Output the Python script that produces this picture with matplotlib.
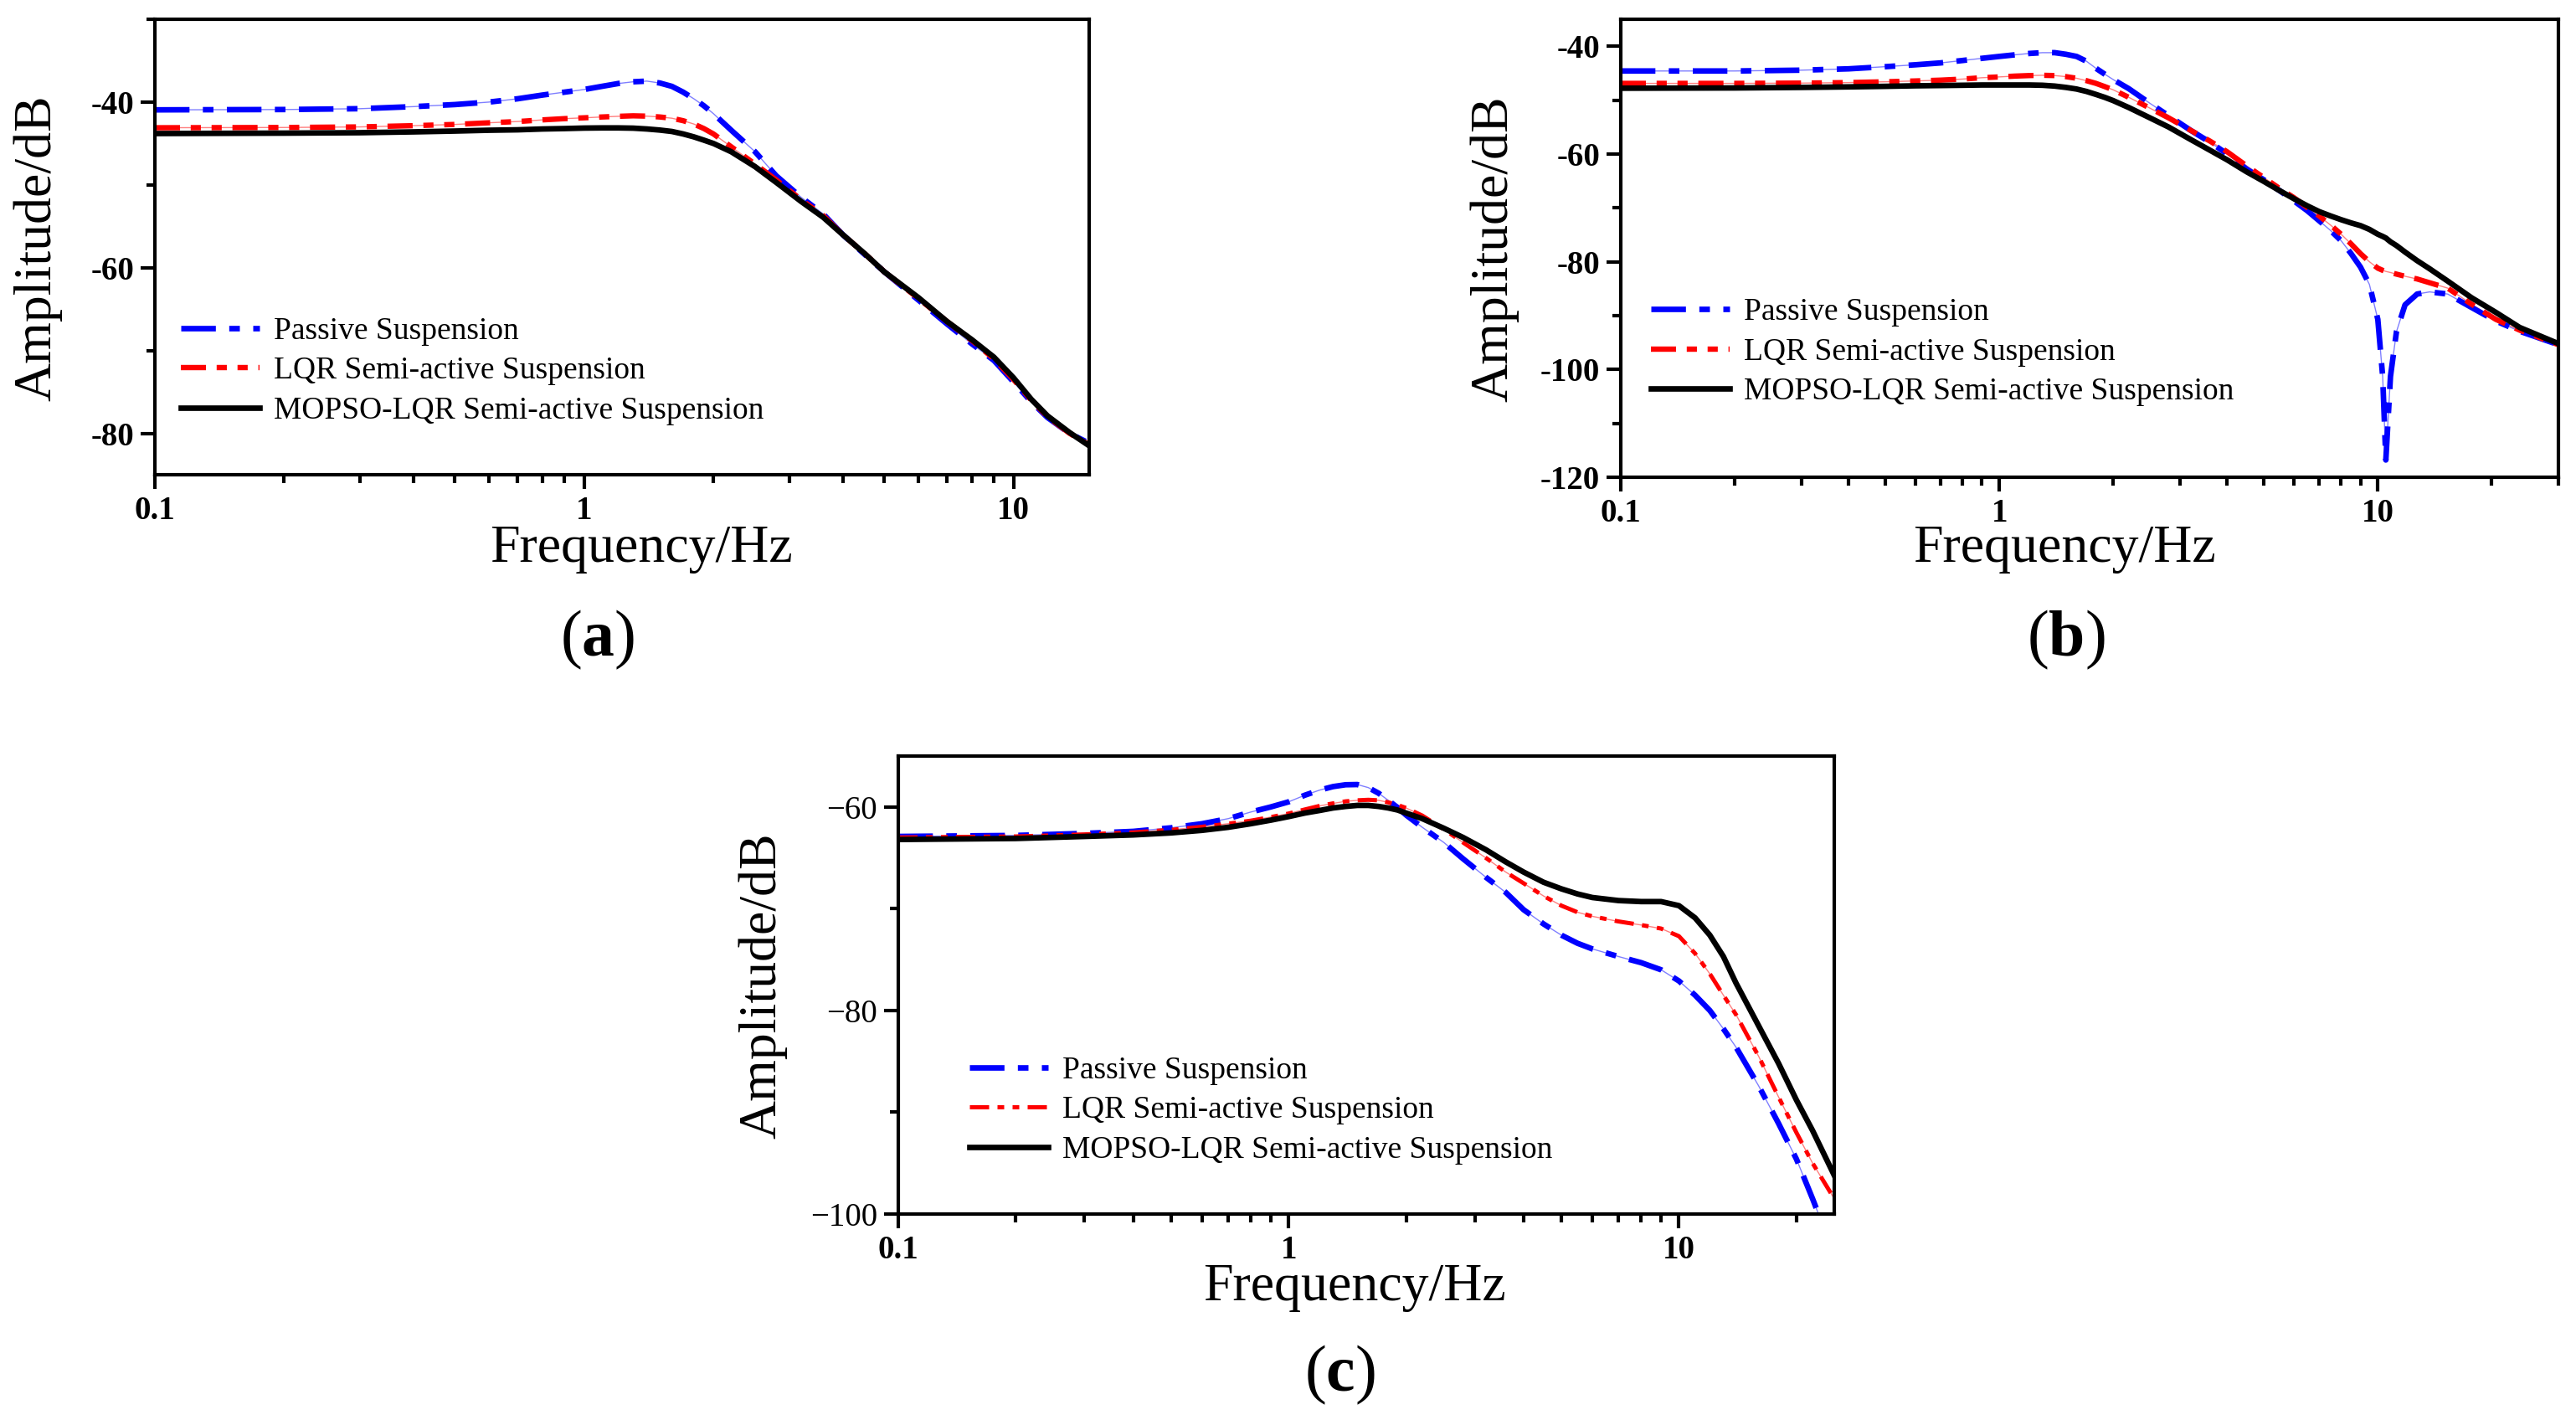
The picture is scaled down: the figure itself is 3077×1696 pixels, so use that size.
import matplotlib
matplotlib.use("Agg")
import matplotlib.pyplot as plt
from matplotlib.ticker import FixedLocator, LogLocator, MultipleLocator, NullFormatter

plt.rcParams["font.family"] = ["Liberation Serif", "DejaVu Serif"]
plt.rcParams["mathtext.fontset"] = "custom"
plt.rcParams["mathtext.rm"] = "Liberation Serif"
plt.rcParams["mathtext.bf"] = "Liberation Serif:bold"

# ---------------------------------------------------------------------------
# data (frequency in Hz, amplitude in dB)
# ---------------------------------------------------------------------------
labels = ["Passive Suspension", "LQR Semi-active Suspension",
          "MOPSO-LQR Semi-active Suspension"]

# panel (a)
freq_a = [0.1, 0.2, 0.3, 0.4, 0.5, 0.6, 0.7, 0.8, 0.9, 1.0, 1.1, 1.2, 1.3, 1.4,
          1.5, 1.6, 1.7, 1.8, 1.9, 2.0, 2.2, 2.5, 2.8, 3.2, 3.6, 4.0, 4.5, 5.0,
          6.0, 7.0, 8.0, 9.0, 10.0, 11.0, 12.0, 13.5, 15.0]
passive_a = [-40.94, -40.9, -40.8, -40.55, -40.3, -40.0, -39.6, -39.15, -38.8,
             -38.48, -38.1, -37.76, -37.55, -37.47, -37.7, -38.1, -38.8, -39.6,
             -40.45, -41.4, -43.4, -46.0, -48.9, -51.5, -53.5, -56.0, -58.4,
             -60.5, -63.9, -66.8, -69.2, -71.2, -73.8, -76.2, -78.1, -80.0, -81.2]
lqr_a = [-43.1, -43.07, -43.0, -42.85, -42.7, -42.5, -42.35, -42.15, -42.0,
         -41.9, -41.8, -41.72, -41.66, -41.7, -41.8, -41.95, -42.25, -42.65,
         -43.2, -43.85, -45.4, -47.5, -49.4, -51.8, -53.7, -56.0, -58.3,
         -60.5, -63.7, -66.5, -68.8, -71.0, -73.5, -76.0, -78.0, -80.0, -81.4]
mopso_a = [-43.8, -43.75, -43.7, -43.6, -43.5, -43.4, -43.35, -43.25, -43.2,
           -43.14, -43.12, -43.12, -43.15, -43.25, -43.38, -43.55, -43.85, -44.2,
           -44.6, -45.0, -46.0, -47.8, -49.7, -52.0, -53.9, -56.0, -58.3,
           -60.5, -63.6, -66.5, -68.7, -70.8, -73.3, -75.9, -77.9, -79.9, -81.5]

# panel (b)
freq_b = [0.1, 0.2, 0.3, 0.4, 0.5, 0.6, 0.7, 0.8, 0.9, 1.0, 1.1, 1.2, 1.3, 1.4,
          1.5, 1.6, 1.7, 1.8, 1.9, 2.0, 2.2, 2.5, 2.8, 3.2, 3.6, 4.0, 4.5, 5.0,
          5.5, 6.0, 6.5, 7.0, 7.5, 8.0, 8.5, 9.0, 9.5, 10.0, 10.3, 10.5, 10.8,
          11.2, 11.8, 12.7, 13.7, 15.3, 17.7, 20.5, 23.7, 30.0]
passive_b = [-44.6, -44.6, -44.45, -44.2, -43.8, -43.45, -43.1, -42.65, -42.25,
             -41.9, -41.6, -41.35, -41.2, -41.2, -41.5, -41.9, -42.8, -44.1,
             -45.2, -46.2, -47.9, -50.6, -52.9, -55.6, -57.8, -60.0, -62.8,
             -64.8, -66.8, -68.7, -70.5, -72.4, -74.2, -76.1, -78.5, -81.0,
             -84.2, -90.7, -101.3, -116.8, -101.3, -93.0, -88.0, -86.0, -85.6,
             -86.0, -88.5, -91.0, -92.9, -95.4]
lqr_b = [-46.9, -46.9, -46.85, -46.75, -46.6, -46.45, -46.3, -46.1, -45.85,
         -45.7, -45.55, -45.45, -45.4, -45.45, -45.65, -45.95, -46.4, -46.9,
         -47.5, -48.1, -49.5, -51.5, -53.3, -55.6, -57.6, -59.6, -62.2, -64.4,
         -66.4, -68.1, -69.9, -71.5, -73.2, -74.9, -76.7, -78.5, -80.0, -81.2,
         -81.6, -81.8, -82.0, -82.3, -82.7, -83.2, -83.9, -84.9, -87.9, -90.7,
         -92.7, -95.4]
mopso_b = [-47.8, -47.75, -47.65, -47.55, -47.45, -47.35, -47.3, -47.25, -47.2,
           -47.2, -47.2, -47.2, -47.25, -47.4, -47.65, -47.95, -48.4, -48.95,
           -49.5, -50.1, -51.4, -53.3, -55.0, -57.3, -59.3, -61.1, -63.3, -65.1,
           -66.8, -68.3, -69.6, -70.7, -71.5, -72.2, -72.8, -73.3, -74.0, -74.9,
           -75.3, -75.6, -76.3, -77.0, -78.2, -79.8, -81.3, -83.6, -86.7, -89.4,
           -92.2, -95.2]

# panel (c)
freq_c = [0.1, 0.2, 0.3, 0.4, 0.5, 0.6, 0.7, 0.8, 0.9, 1.0, 1.1, 1.2, 1.3, 1.4,
          1.5, 1.6, 1.7, 1.8, 1.9, 2.0, 2.2, 2.5, 2.8, 3.2, 3.6, 4.0, 4.5, 5.0,
          5.5, 6.0, 7.0, 8.0, 9.0, 10.0, 11.0, 12.0, 13.0, 14.0, 16.0, 18.0,
          20.0, 22.0, 25.0]
passive_c = [-62.9, -62.8, -62.6, -62.4, -62.05, -61.65, -61.15, -60.5, -60.0,
             -59.5, -58.85, -58.35, -58.0, -57.82, -57.8, -58.1, -58.65, -59.35,
             -60.05, -60.8, -62.0, -63.5, -65.1, -66.9, -68.4, -70.1, -71.5,
             -72.6, -73.4, -73.95, -74.7, -75.3, -76.0, -77.1, -78.5, -80.0,
             -81.8, -83.6, -87.4, -91.1, -94.6, -98.5, -104.0]
lqr_c = [-63.0, -62.9, -62.7, -62.5, -62.25, -61.95, -61.65, -61.35, -61.0,
         -60.65, -60.25, -59.9, -59.65, -59.45, -59.35, -59.3, -59.35, -59.55,
         -59.8, -60.1, -60.85, -62.2, -63.5, -65.0, -66.4, -67.5, -68.75, -69.7,
         -70.35, -70.75, -71.25, -71.6, -71.95, -72.7, -74.4, -76.4, -78.5,
         -80.4, -84.5, -88.5, -92.0, -95.0, -98.5]
mopso_c = [-63.2, -63.1, -62.9, -62.75, -62.55, -62.3, -62.0, -61.65, -61.3,
           -60.95, -60.6, -60.35, -60.1, -59.95, -59.85, -59.85, -59.95, -60.1,
           -60.3, -60.6, -61.15, -62.1, -63.0, -64.2, -65.4, -66.4, -67.4, -68.05,
           -68.55, -68.9, -69.2, -69.3, -69.3, -69.7, -70.9, -72.6, -74.7, -77.3,
           -81.5, -85.2, -88.8, -91.8, -96.2]

xtick_vals = [0.1, 1, 10]
xtick_text = ["0.1", "1", "10"]
yticks_a = [-40, -60, -80]
yticks_b = [-40, -60, -80, -100, -120]
yticks_c = [-60, -80, -100]
ytext_a = ["-40", "-60", "-80"]
ytext_b = ["-40", "-60", "-80", "-100", "-120"]
ytext_c = ["\u221260", "\u221280", "\u2212100"]

# ---------------------------------------------------------------------------
W, H = 3077, 1696
fig = plt.figure(figsize=(W / 200, H / 200), dpi=200)

def box(x0, y0, x1, y1):
    # pixel box (top-left origin) -> figure fraction
    return [x0 / W, 1 - y1 / H, (x1 - x0) / W, (y1 - y0) / H]

ax_a = fig.add_axes(box(185, 23, 1301, 567))
ax_b = fig.add_axes(box(1936, 23, 3056, 570))
ax_c = fig.add_axes(box(1073, 903, 2191, 1450))

BLUE_DASH = (0, (6.2, 2.4, 1.9, 2.4))
RED_DASH = (0, (4.7, 2.0, 1.9, 2.0, 1.9, 2.0))
RED_DASH_C = (0, (4.6, 2.0, 1.6, 2.0, 1.6, 2.0))


def draw(ax, f, p, l, m, red_ls, red_lw):
    # faint connector under the dashed curves, as in the original export
    ax.plot(f, p, color="blue", lw=0.5, alpha=0.5)
    ax.plot(f, l, color="red", lw=0.5, alpha=0.5)
    h1, = ax.plot(f, p, color="blue", lw=2.4, ls=BLUE_DASH, label=labels[0])
    h2, = ax.plot(f, l, color="red", lw=red_lw, ls=red_ls, label=labels[1])
    h3, = ax.plot(f, m, color="black", lw=2.4, ls="-", label=labels[2])
    return [h1, h2, h3]


def style(ax, xmax, ylim, yt, ytl, ybold, leg_anchor, handles):
    ax.set_xscale("log")
    ax.set_xlim(0.1, xmax)
    ax.set_ylim(*ylim)
    ax.xaxis.set_major_locator(FixedLocator(xtick_vals))
    ax.set_xticklabels(xtick_text, fontsize=14, fontweight="bold")
    ax.xaxis.set_minor_locator(LogLocator(base=10, subs=range(2, 10)))
    ax.xaxis.set_minor_formatter(NullFormatter())
    ax.set_yticks(yt)
    ax.set_yticklabels(ytl, fontsize=14, fontweight="bold" if ybold else "normal")
    ax.yaxis.set_minor_locator(MultipleLocator(10))
    ax.tick_params(which="major", direction="out", length=6, width=1.5, pad=3)
    ax.tick_params(which="minor", direction="out", length=3.5, width=1.5)
    ax.tick_params(top=False, right=False, which="both")
    for s in ax.spines.values():
        s.set_linewidth(1.5)
    ax.legend(handles=handles, loc="upper left", bbox_to_anchor=leg_anchor,
              frameon=False, fontsize=13.5, handlelength=2.5, handletextpad=0.46,
              labelspacing=0.35, borderpad=0, borderaxespad=0)


h = draw(ax_a, freq_a, passive_a, lqr_a, mopso_a, RED_DASH, 2.3)
style(ax_a, 15, (-85, -30), yticks_a, ytext_a, True, (0.028, 0.347), h)
h = draw(ax_b, freq_b, passive_b, lqr_b, mopso_b, RED_DASH, 2.3)
style(ax_b, 30, (-120, -35), yticks_b, ytext_b, True, (0.032, 0.392), h)
h = draw(ax_c, freq_c, passive_c, lqr_c, mopso_c, RED_DASH_C, 1.8)
style(ax_c, 25, (-100, -55), yticks_c, ytext_c, False, (0.076, 0.345), h)

# axis titles and panel letters placed in figure pixels
for x, y in [(766, 671), (2466, 671), (1618, 1553)]:
    fig.text(x / W, 1 - y / H, "Frequency/Hz", fontsize=23, ha="center", va="baseline")
for x, y in [(45, 296), (1785, 297), (911, 1177)]:
    fig.text(x / W, 1 - y / H, "Amplitude/dB", fontsize=23, rotation=90,
             ha="center", va="center")
for x, y, t in [(714, 764, "a"), (2468, 764, "b"), (1600, 1642, "c")]:
    fig.text(x / W, 1 - y / H, "($\\mathbf{%s}$)" % t, fontsize=28,
             ha="center", va="center")

fig.savefig("out.png", dpi=200)
